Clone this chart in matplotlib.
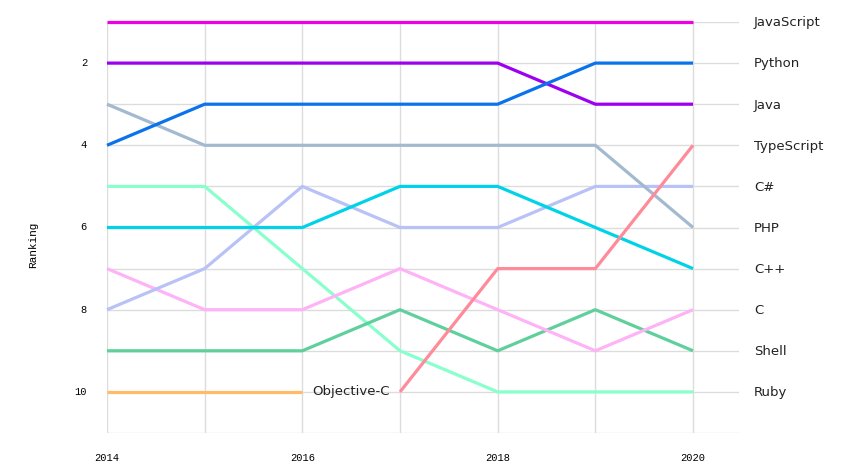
import matplotlib
matplotlib.use("Agg")
import matplotlib.pyplot as plt
from matplotlib.transforms import blended_transform_factory

years = [2014, 2015, 2016, 2017, 2018, 2019, 2020]

javascript = [1, 1, 1, 1, 1, 1, 1]
python = [4, 3, 3, 3, 3, 2, 2]
java = [2, 2, 2, 2, 2, 3, 3]
typescript = [None, None, None, 10, 7, 7, 4]
csharp = [8, 7, 5, 6, 6, 5, 5]
php = [3, 4, 4, 4, 4, 4, 6]
cpp = [6, 6, 6, 5, 5, 6, 7]
c_lang = [7, 8, 8, 7, 8, 9, 8]
shell = [9, 9, 9, 8, 9, 8, 9]
ruby = [5, 5, 7, 9, 10, 10, 10]
objc = [10, 10, 10, None, None, None, None]

series = [
    ("Ruby", ruby, "#88ffcc"),
    ("Shell", shell, "#5fcf9c"),
    ("C", c_lang, "#ffb3f7"),
    ("Objective-C", objc, "#ffbb66"),
    ("C#", csharp, "#b8c2f7"),
    ("C++", cpp, "#00d2e8"),
    ("PHP", php, "#a3b9cf"),
    ("TypeScript", typescript, "#ff8a9a"),
    ("Java", java, "#9d00f0"),
    ("Python", python, "#0a73eb"),
    ("JavaScript", javascript, "#ee00e6"),
]

yticks = [2, 4, 6, 8, 10]
xticks = [2014, 2016, 2018, 2020]

fig = plt.figure(figsize=(8.62, 4.75), dpi=100)
ax = fig.add_axes([107/862, 1-433/475, (739-107)/862, (433-22)/475])

for name, vals, col in series:
    xs = [y for y, v in zip(years, vals) if v is not None]
    ys = [v for v in vals if v is not None]
    ax.plot(xs, ys, color=col, lw=2.3, solid_capstyle="butt", clip_on=False, zorder=3)

ax.set_xlim(2014, 2014 + (739-107)/97.67)
ax.set_ylim(11, 1)
ax.set_xticks(years)
ax.set_yticks(range(1, 12))
ax.grid(True, color="#dcdcdc", lw=1)
ax.set_axisbelow(True)
for s in ax.spines.values():
    s.set_visible(False)
ax.tick_params(length=0, labelbottom=False, labelleft=False)

mono = ["Liberation Mono", "DejaVu Sans Mono"]
ttl = blended_transform_factory(fig.transFigure, ax.transData)
for r in yticks:
    ax.text(87/862, r, str(r), transform=ttl, ha="right", va="center",
            fontsize=7.5, family=mono, color="#000000")
ttb = blended_transform_factory(ax.transData, fig.transFigure)
for yr in xticks:
    ax.text(yr, 1-458/475, str(yr), transform=ttb, ha="center", va="center",
            fontsize=7.5, family=mono, color="#000000")
fig.text(33/862, 1-245/475, "Ranking", rotation=90, ha="center", va="center",
         fontsize=8, family=mono, color="#000000")

last = {name: vals[-1] for name, vals, col in series if vals[-1] is not None}
ttr = blended_transform_factory(fig.transFigure, ax.transData)
for name, r in last.items():
    ax.text(754/862, r + 0.02, name, transform=ttr, ha="left", va="center",
            fontsize=9.5, color="#222222")

ax.annotate("Objective-C", xy=(2016, objc[2]), xytext=(7, 0),
            textcoords="offset points", ha="left", va="center",
            fontsize=9.5, color="#222222")

fig.savefig("out.png", dpi=100)
